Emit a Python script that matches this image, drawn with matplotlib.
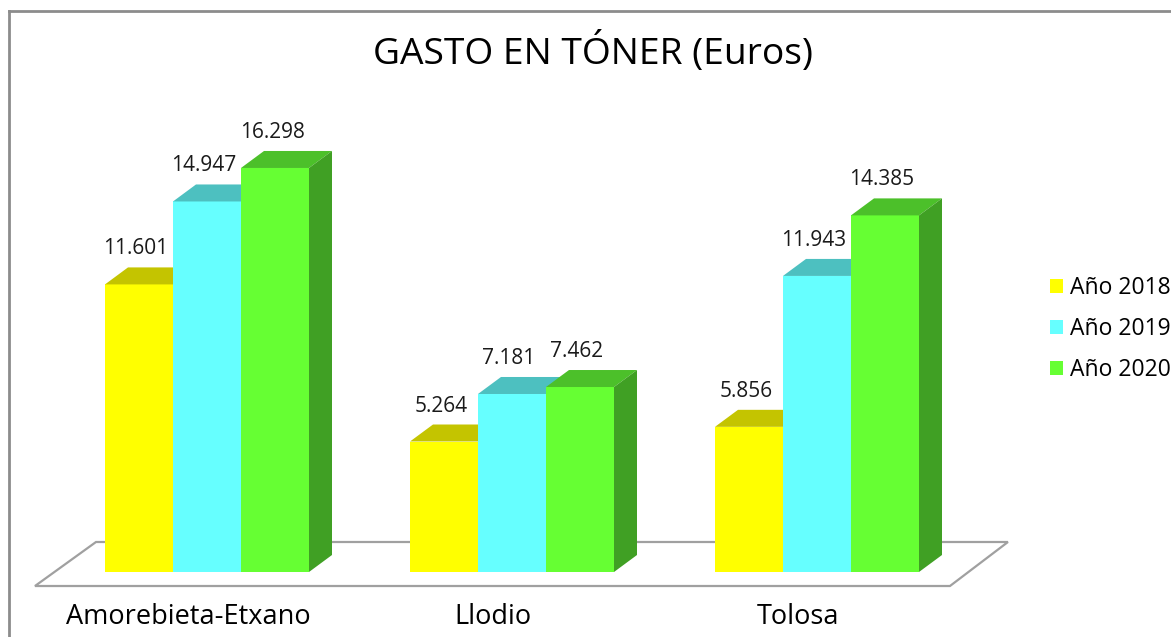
import numpy as np
import matplotlib
matplotlib.use('Agg')
import matplotlib.pyplot as plt
from matplotlib.patches import Polygon, Patch

plt.rcParams['font.family'] = ['Open Sans', 'DejaVu Sans']

# data
municipios = ['Amorebieta-Etxano', 'Llodio', 'Tolosa']
series = ['Año 2018', 'Año 2019', 'Año 2020']
gasto_2018 = [11.601, 5.264, 5.856]
gasto_2019 = [14.947, 7.181, 11.943]
gasto_2020 = [16.298, 7.462, 14.385]
etiquetas_2018 = ['11.601', '5.264', '5.856']
etiquetas_2019 = ['14.947', '7.181', '11.943']
etiquetas_2020 = ['16.298', '7.462', '14.385']

front_cols = ['#FFFF00', '#66FFFF', '#66FF33']
top_cols = ['#C4C400', '#4DC0C0', '#4CC02A']
side_cols = ['#A8A800', '#3AA3A3', '#40A024']

# pixel calibration of the 3D-ish look
PX_X = 305.0     # px per category
PX_Y = 24.79     # px per unit (thousand euros)
W = 68 / PX_X
DX = 23 / PX_X
DY = 17 / PX_Y

fig = plt.figure(figsize=(11.71, 6.37), dpi=100)
ax = fig.add_axes([0, 0, 1, 1])
ax.set_xlim(-207 / PX_X, (1171 - 207) / PX_X)
ax.set_ylim((572 - 637) / PX_Y, 572 / PX_Y)
ax.axis('off')

# floor
fl, fr = -0.564, 2.436
floor = Polygon([(fl, -0.565), (fr, -0.565), (fr + 0.19, 1.21), (fl + 0.20, 1.21)],
                closed=True, facecolor='white', edgecolor='#A0A0A0', lw=1.6, zorder=1)
ax.add_patch(floor)

x = np.arange(len(municipios))
vals = [gasto_2018, gasto_2019, gasto_2020]
labs = [etiquetas_2018, etiquetas_2019, etiquetas_2020]

for g in range(len(municipios)):
    for s in range(3):
        xc = x[g] + (s - 1) * W
        v = vals[s][g]
        z = 2 + s
        ax.bar(xc, v, width=W, color=front_cols[s], lw=0, zorder=z)
        left, right = xc - W / 2, xc + W / 2
        top = Polygon([(left, v), (right, v), (right + DX, v + DY), (left + DX, v + DY)],
                      closed=True, facecolor=top_cols[s], lw=0, zorder=z)
        side = Polygon([(right, 0), (right + DX, DY), (right + DX, v + DY), (right, v)],
                       closed=True, facecolor=side_cols[s], lw=0, zorder=z)
        ax.add_patch(top)
        ax.add_patch(side)
        ax.text(xc - 3 / PX_X, v + DY + 8 / PX_Y, labs[s][g], ha='center', va='bottom',
                fontsize=15, color='#1a1a1a', zorder=10)

for g, name in enumerate(municipios):
    ax.text(x[g] - 19 / PX_X, -1.8, name, ha='center', va='center', fontsize=19.5, color='black')

fig.text(593 / 1171, 1 - 52 / 637, 'GASTO EN TÓNER (Euros)', ha='center', va='center',
         fontsize=26.8, color='black')

handles = [Patch(facecolor=c, edgecolor='none') for c in front_cols]
fig.legend(handles, series, loc='upper left', bbox_to_anchor=(1050 / 1171, 1 - 276 / 637),
           frameon=False, fontsize=16.5, handlelength=0.58, handleheight=0.58,
           handletextpad=0.3, labelspacing=0.75, borderpad=0, borderaxespad=0)

# chart frame (only top and left edges visible)
fig.add_artist(plt.Line2D([9 / 1171, 9 / 1171], [0, 1 - 11 / 637], transform=fig.transFigure,
                          color='#8c8c8c', lw=2))
fig.add_artist(plt.Line2D([9 / 1171, 1], [1 - 11 / 637, 1 - 11 / 637], transform=fig.transFigure,
                          color='#8c8c8c', lw=2))

fig.savefig('out.png', dpi=100)
